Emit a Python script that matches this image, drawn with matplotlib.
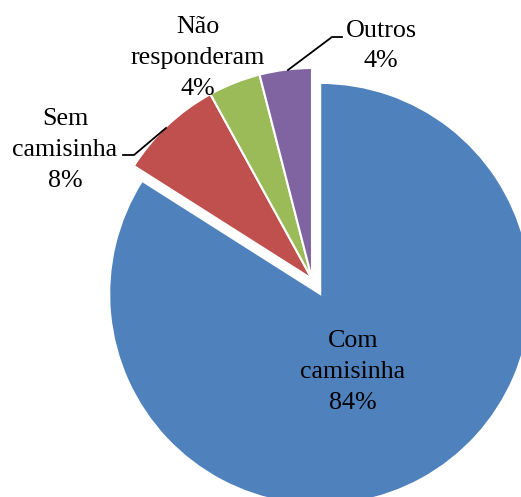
import matplotlib
matplotlib.use("Agg")
import matplotlib.pyplot as plt

categories = ["Com\ncamisinha", "Sem\ncamisinha", "Não\nresponderam", "Outros"]
values = [84, 8, 4, 4]
colors = ["#4F81BD", "#C0504D", "#9BBB59", "#8064A2"]
explode = [17, 0, 0, 0]

W, H = 521, 497
fig = plt.figure(figsize=(W / 100, H / 100), dpi=100)
ax = fig.add_axes([0, 0, 1, 1])

center = (312, H - 279)
radius = 211
wedges, _ = ax.pie(values, colors=colors, startangle=90, counterclock=False,
                   explode=explode, center=center, radius=radius,
                   wedgeprops=dict(edgecolor="white", linewidth=1.5),
                   frame=True)
ax.set_xlim(0, W)
ax.set_ylim(0, H)
ax.set_aspect("equal")
ax.axis("off")

font = dict(family="Liberation Serif", fontsize=18.7, color="black",
            ha="center", va="center", linespacing=1.52)
label_pos = [(353, 372), (65, 150), (198, 58), (381, 46)]
for cat, v, (x, y) in zip(categories, values, label_pos):
    ax.text(x, H - y, f"{cat}\n{v}%", **font)

# leader lines
ax.plot([123, 134, 166], [H - 155, H - 155, H - 128], color="black", lw=1.3)
ax.plot([342, 332, 288], [H - 37, H - 37, H - 70], color="black", lw=1.3)

fig.savefig("out.png", dpi=100)
